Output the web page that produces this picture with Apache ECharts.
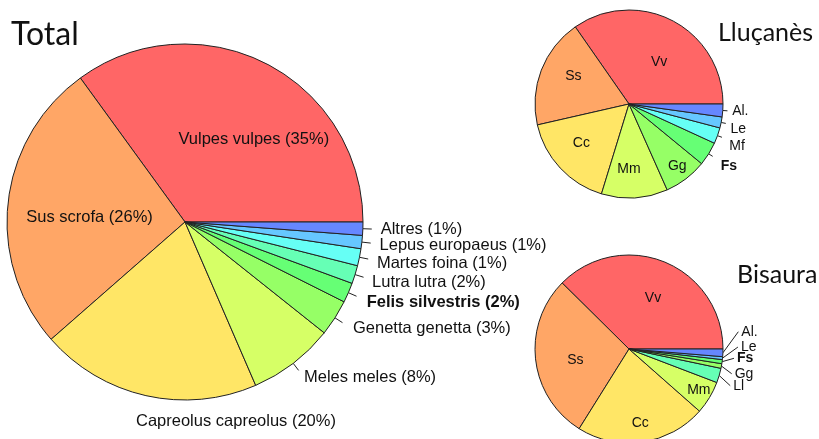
<!DOCTYPE html>
<html><head><meta charset="utf-8">
<script src="https://cdn.jsdelivr.net/npm/echarts@6/dist/echarts.min.js"></script>
<style>html,body{margin:0;padding:0;background:#fff}#c{width:819px;height:439px}</style>
</head><body><div id="c"></div>
<script>
// ---- data ----
const speciesCodes = ['Vv','Ss','Cc','Mm','Gg','Fs','Ll','Mf','Le','Al'];
const speciesColors = ['#FF6666','#FFA666','#FFE666','#D6FF66','#96FF66','#66FF75','#66FFB5','#66FFF5','#66C7FF','#6687FF'];

const totalCodes  = ['Vv','Ss','Cc','Mm','Gg','Fs','Ll','Mf','Le','Al'];
const totalValues = [35.0, 26.45, 20.05, 7.8, 3.3, 1.8, 1.65, 1.55, 1.2, 1.2];
const totalLabels = ['Vulpes vulpes (35%)','Sus scrofa (26%)','Capreolus capreolus (20%)','Meles meles (8%)',
  'Genetta genetta (3%)','Felis silvestris (2%)','Lutra lutra (2%)','Martes foina (1%)','Lepus europaeus (1%)','Altres (1%)'];

const llucCodes  = ['Vv','Ss','Cc','Mm','Gg','Fs','Mf','Le','Al'];
const llucValues = [34.7, 18.9, 16.7, 11.4, 7.4, 4.1, 2.75, 1.9, 2.2];
const llucLabels = ['Vv','Ss','Cc','Mm','Gg','Fs','Mf','Le','Al.'];

const bisCodes  = ['Vv','Ss','Cc','Mm','Ll','Gg','Fs','Le','Al'];
const bisValues = [37.6, 28.5, 22.4, 5.7, 2.5, 0.8, 0.7, 0.5, 1.3];
const bisLabels = ['Vv','Ss','Cc','Mm','Ll','Gg','Fs','Le','Al.'];

const titles = ['Total', 'Lluçanès', 'Bisaura'];

// ---- label placement tweaks (by data index) ----
const totalNudge = {0:{inside:1,dx:27,dy:-1}, 1:{inside:1,dx:-4,dy:6}, 2:{dx:-6,dy:8,align:'left',noLine:1},
                    4:{dx:3,dy:1}, 5:{dx:2,dy:3}, 6:{dy:3}, 7:{dy:3}, 8:{dy:1}};
const llucNudge  = {0:{inside:1,dx:7,dy:2}, 1:{inside:1,dx:-9,dy:-10}, 2:{inside:1,dx:-11,dy:5},
                    3:{inside:1,dx:-3,dy:15}, 4:{inside:1,dx:18,dy:22},
                    5:{dx:4,dy:7}, 6:{dx:3,dy:7}, 7:{dy:5}};
const bisNudge   = {0:{inside:1,dx:5,dy:-5}, 1:{inside:1,dx:-4,dy:5}, 2:{inside:1,dx:4,dy:25}, 3:{inside:1,dx:27,dy:15},
                    4:{dx:5,dy:7.5,fan:1}, 5:{dx:4,dy:6,fan:1}, 6:{dx:5.5,dy:-4.6,fan:1}, 7:{dx:9,dy:-12,fan:1}, 8:{dx:9,dy:-21.5,fan:1}};

function colorOf(code){ return speciesColors[speciesCodes.indexOf(code)]; }

function buildData(codes, values, labels, nudge){
  return values.map((v,i)=>{
    const n = nudge[i] || {};
    const bold = codes[i]==='Fs';
    return {
      value: v, name: labels[i],
      itemStyle: {color: colorOf(codes[i])},
      label: {position: n.inside ? 'inside' : 'outside', fontWeight: bold ? 'bold' : 'normal'},
      labelLine: {show: !n.inside}
    };
  });
}

function makeLayout(cx, cy, nudge){
  return function(p){
    const n = nudge[p.dataIndex] || {};
    if (n.inside) return {dx: n.dx||0, dy: n.dy||0};
    const pts = p.labelLinePoints;
    if (!pts || !pts.length) return {};
    const ex = pts[0][0]-cx, ey = pts[0][1]-cy;
    const lx = cx + ex*1.1 + (n.dx||0), ly = cy + ey*1.1 + (n.dy||0);
    let line;
    if (n.noLine) line = [pts[0], pts[0], pts[0]];
    else if (n.fan) { const e=[lx-3, ly]; line = [pts[0], e, e]; }
    else { const t=[cx+ex*1.05, cy+ey*1.05]; line = [pts[0], t, t]; }
    return {x: lx, y: ly, align: n.align || (ex<0?'right':'left'), verticalAlign:'middle', labelLinePoints: line};
  };
}

function pieSeries(center, radius, data, nudge, fontSize){
  return {
    type:'pie', center:center, radius:radius, startAngle:0, clockwise:false,
    avoidLabelOverlap:false, silent:true, data:data,
    itemStyle:{borderColor:'#222', borderWidth:1},
    label:{color:'#111', fontFamily:'Liberation Sans', fontSize:fontSize, distanceToLabelLine:0},
    labelLine:{length:4, length2:0, lineStyle:{color:'#222', width:1}},
    labelLayout: makeLayout(center[0], center[1], nudge),
    emphasis:{disabled:true}
  };
}

const chart = echarts.init(document.getElementById('c'), null, {renderer:'canvas'});
chart.setOption({
  animation:false,
  backgroundColor:'#fff',
  title:[
    {text:titles[0], left:11, top:19, padding:0, textStyle:{fontFamily:'Lato', fontSize:32, fontWeight:'normal', color:'#111'}},
    {text:titles[1], left:718, top:20, padding:0, textStyle:{fontFamily:'Lato', fontSize:25, fontWeight:'normal', color:'#111'}},
    {text:titles[2], left:737, top:262, padding:0, textStyle:{fontFamily:'Lato', fontSize:25, fontWeight:'normal', color:'#111'}}
  ],
  series:[
    pieSeries([185,222], 178, buildData(totalCodes,totalValues,totalLabels,totalNudge), totalNudge, 16.5),
    pieSeries([629,104], 94, buildData(llucCodes,llucValues,llucLabels,llucNudge), llucNudge, 14),
    pieSeries([629,349], 94, buildData(bisCodes,bisValues,bisLabels,bisNudge), bisNudge, 14)
  ]
});
</script></body></html>
